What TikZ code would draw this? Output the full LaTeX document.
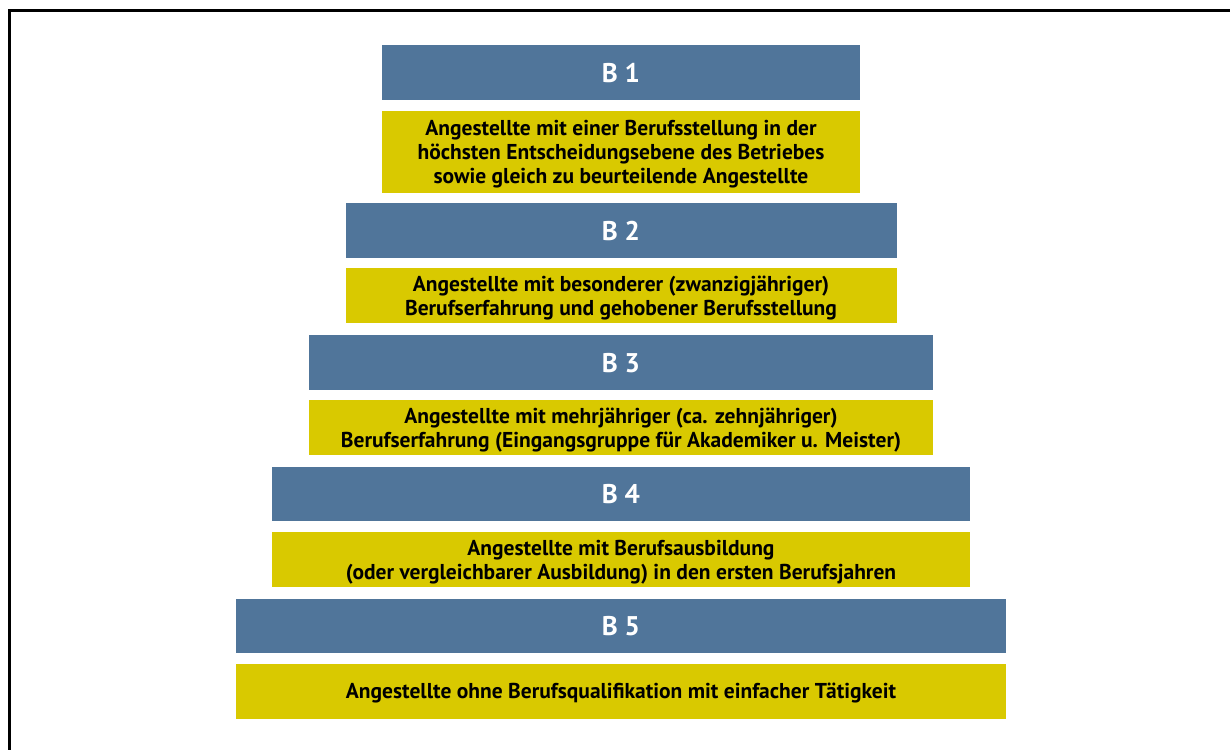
\documentclass[tikz,border=0pt]{standalone}
\usepackage{fontspec}
\setmainfont{PT Sans}
\definecolor{bblue}{HTML}{50759A}
\definecolor{byell}{HTML}{D9C900}
\begin{document}
\begin{tikzpicture}[x=1pt,y=-1pt,
  lbl/.style={text=white,font=\bfseries\fontsize{27}{30}\selectfont},
  desc/.style={text=black,align=center,font=\bfseries\fontsize{21.5}{24}\selectfont}]
\useasboundingbox (0,0) rectangle (1230,749);
\draw[line width=3pt] (9.5,760) -- (9.5,10.5) -- (1240,10.5);
% B1
\fill[bblue] (382,45) rectangle (860,100);
\node[lbl] (b1) at (621,73) {B 1};
\fill[byell] (382,111) rectangle (860,193);
\node[desc] (d1) at (621,154) {Angestellte mit einer Berufsstellung in der\\höchsten Entscheidungsebene des Betriebes\\sowie gleich zu beurteilende Angestellte};
% B2
\fill[bblue] (346,203) rectangle (897,258);
\node[lbl] (b2) at (621,231) {B 2};
\fill[byell] (346,268) rectangle (897,323);
\node[desc] (d2) at (621,298) {Angestellte mit besonderer (zwanzigjähriger)\\Berufserfahrung und gehobener Berufsstellung};
% B3
\fill[bblue] (309,335) rectangle (933,390);
\node[lbl] (b3) at (621,363) {B 3};
\fill[byell] (309,400) rectangle (933,455);
\node[desc] (d3) at (621,430) {Angestellte mit mehrjähriger (ca. zehnjähriger)\\Berufserfahrung (Eingangsgruppe für Akademiker u. Meister)};
% B4
\fill[bblue] (272,467) rectangle (970,521);
\node[lbl] (b4) at (621,494) {B 4};
\fill[byell] (272,532) rectangle (970,587);
\node[desc] (d4) at (621,562) {Angestellte mit Berufsausbildung\\(oder vergleichbarer Ausbildung) in den ersten Berufsjahren};
% B5
\fill[bblue] (236,599) rectangle (1006,653);
\node[lbl] (b5) at (621,626) {B 5};
\fill[byell] (236,664) rectangle (1006,719);
\node[desc] (d5) at (621,693) {Angestellte ohne Berufsqualifikation mit einfacher Tätigkeit};
\end{tikzpicture}
\end{document}
